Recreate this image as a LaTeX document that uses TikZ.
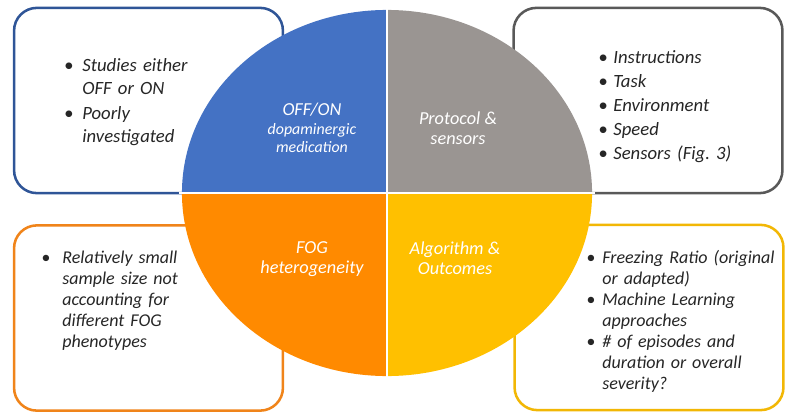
\documentclass[tikz,border=0pt]{standalone}
\usepackage{fontspec}
\setmainfont{Carlito}
\usepackage{enumitem}
\usetikzlibrary{positioning}
\definecolor{medblue}{HTML}{4472C4}
\definecolor{medline}{HTML}{2F5597}
\definecolor{protgray}{HTML}{9A9592}
\definecolor{protline}{HTML}{595959}
\definecolor{fogorange}{HTML}{FF8A00}
\definecolor{fogline}{HTML}{F0841A}
\definecolor{algoyellow}{HTML}{FFC000}
\definecolor{algoline}{HTML}{F2B705}
\definecolor{notetext}{HTML}{262626}
\setlist[itemize]{label=\textbullet, topsep=0pt, partopsep=0pt, parsep=0pt, itemsep=1pt, leftmargin=10pt, labelsep=6pt}

\begin{document}
\begin{tikzpicture}[
  x=0.025cm, y=0.025cm,
  font=\itshape,
  infobox/.style={
    draw, line width=1.8pt, fill=white, rounded corners=0.57cm,
    minimum width=6.72cm, minimum height=4.63cm
  },
  notes/.style={
    anchor=north west, inner sep=0pt, text width=5.4cm, text=notetext,
    font=\itshape\fontsize{13.3}{16.5}\selectfont
  },
  lownotes/.style={notes,
    font=\itshape\fontsize{12.8}{15}\selectfont
  },
  quadlabel/.style={
    text=white, align=center, inner sep=0pt,
    font=\itshape\fontsize{13}{14.2}\selectfont
  },
  smalllbl/.style={font=\itshape\fontsize{11.3}{12.8}\selectfont},
]
\useasboundingbox (0,0) rectangle (800,416);

\node[infobox, draw=medline] (medbox) at (148.5,315.5) {};
\node[infobox, draw=protline] (protbox) at (648,315.5) {};
\node[infobox, draw=fogline] (fogbox) at (148.5,98) {};
\node[infobox, draw=algoline] (algobox) at (649,98.5) {};

\coordinate (c) at (387,223);
\fill[medblue] (c) -- ++(-5.125cm,0) arc[start angle=180, end angle=90, x radius=5.125cm, y radius=4.575cm] -- cycle;
\fill[protgray] (c) -- ++(0,4.575cm) arc[start angle=90, end angle=0, x radius=5.125cm, y radius=4.575cm] -- cycle;
\fill[algoyellow] (c) -- ++(5.125cm,0) arc[start angle=0, end angle=-90, x radius=5.125cm, y radius=4.575cm] -- cycle;
\fill[fogorange] (c) -- ++(0,-4.575cm) arc[start angle=-90, end angle=-180, x radius=5.125cm, y radius=4.575cm] -- cycle;
\draw[white, line width=1.5pt] ([xshift=-5.2cm]c) -- ([xshift=5.2cm]c);
\draw[white, line width=1.5pt] ([yshift=-4.65cm]c) -- ([yshift=4.65cm]c);

\node[quadlabel] (medlbl) at (312,306) {OFF/ON};
\node[quadlabel, smalllbl] (medsub) at (312,278) {dopaminergic\\medication};
\node[quadlabel] (protlbl) at (458,288) {Protocol \&\\sensors};
\node[quadlabel] (foglbl) at (312,157) {FOG\\heterogeneity};
\node[quadlabel] (algolbl) at (455,158) {Algorithm \&\\Outcomes};

\node[notes] (mednotes) at (68,368) {%
  \begin{itemize}[labelsep=6.4pt]
    \item Studies either\newline OFF or ON
    \item Poorly\newline investigated
  \end{itemize}};
\node[notes] (protnotes) at (599,376) {%
  \begin{itemize}[labelsep=4pt, itemsep=0.6pt]
    \item Instructions
    \item Task
    \item Environment
    \item Speed
    \item Sensors (Fig.\ 3)
  \end{itemize}};
\node[lownotes] (fognotes) at (48,174) {%
  \begin{itemize}[labelsep=8.5pt]
    \item Relatively small\newline sample size not\newline accounting for\newline different FOG\newline phenotypes
  \end{itemize}};
\node[lownotes] (algonotes) at (588,174) {%
  \begin{itemize}[labelsep=5pt, itemsep=0pt]
    \item Freezing Ratio (original\newline or adapted)
    \item Machine Learning\newline approaches
    \item \# of episodes and\newline duration or overall\newline severity?
  \end{itemize}};

\end{tikzpicture}
\end{document}
